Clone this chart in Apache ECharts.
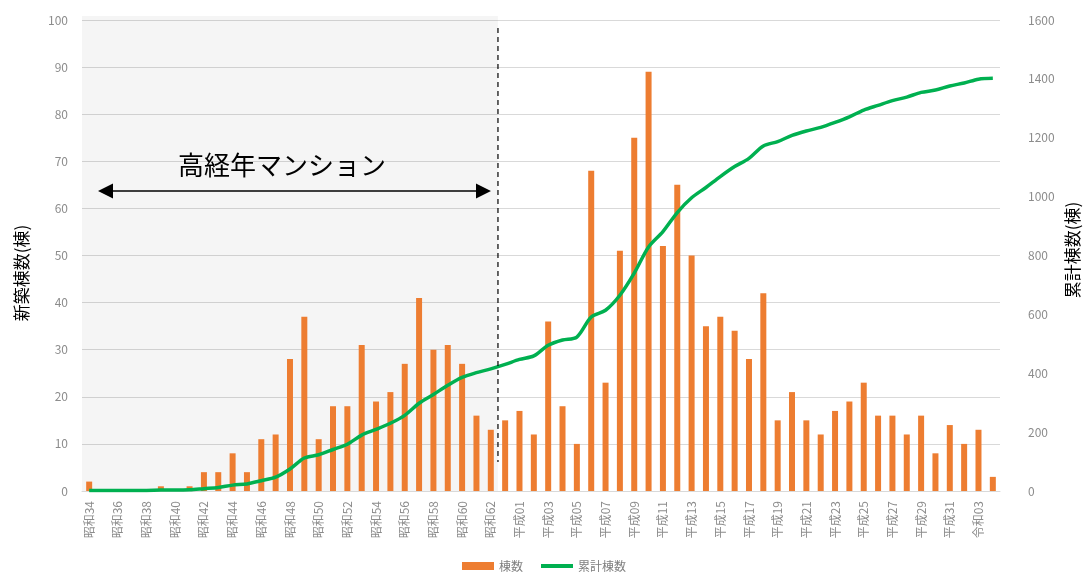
<!DOCTYPE html>
<html><head><meta charset="utf-8">
<script src="https://cdn.jsdelivr.net/npm/echarts@6/dist/echarts.min.js"></script>
<style>html,body{margin:0;padding:0;background:#fff}#c{width:1088px;height:579px}</style>
</head><body><div id="c"></div>
<script>
const categories = [
 '昭和34','昭和35','昭和36','昭和37','昭和38','昭和39','昭和40','昭和41','昭和42','昭和43',
 '昭和44','昭和45','昭和46','昭和47','昭和48','昭和49','昭和50','昭和51','昭和52','昭和53',
 '昭和54','昭和55','昭和56','昭和57','昭和58','昭和59','昭和60','昭和61','昭和62','昭和63',
 '平成01','平成02','平成03','平成04','平成05','平成06','平成07','平成08','平成09','平成10',
 '平成11','平成12','平成13','平成14','平成15','平成16','平成17','平成18','平成19','平成20',
 '平成21','平成22','平成23','平成24','平成25','平成26','平成27','平成28','平成29','平成30',
 '平成31','令和02','令和03','令和04'];
const buildings = [
 2,0,0,0,0,1,0,1,4,4,
 8,4,11,12,28,37,11,18,18,31,
 19,21,27,41,30,31,27,16,13,15,
 17,12,36,18,10,68,23,51,75,89,
 52,65,50,35,37,34,28,42,15,21,
 15,12,17,19,23,16,16,12,16,8,
 14,10,13,3];
const cumulative = [
 2,2,2,2,2,3,3,4,8,12,
 20,24,35,47,75,112,123,141,159,190,
 209,230,257,298,328,359,386,402,415,430,
 447,459,495,513,523,591,614,665,740,829,
 881,946,996,1031,1068,1102,1130,1172,1187,1208,
 1223,1235,1252,1271,1294,1310,1326,1338,1354,1362,
 1376,1386,1399,1402];
const leftTicks = {min:0, max:100, interval:10};
const rightTicks = {min:0, max:1600, interval:200};

const FONT = '"Noto Sans CJK JP", "Noto Sans", sans-serif';
const chart = echarts.init(document.getElementById('c'), null, {renderer:'canvas'});
chart.setOption({
  animation:false,
  textStyle:{fontFamily:FONT},
  grid:{left:82, right:88, top:20, bottom:88, containLabel:false},
  legend:{
    bottom:2, left:'center', itemGap:18, itemWidth:32, itemHeight:8,
    textStyle:{color:'#7f7f7f', fontSize:12, fontFamily:FONT},
    data:[{name:'棟数', icon:'rect'},{name:'累計棟数', icon:'path://M0,0H32V4H0Z'}]
  },
  xAxis:{
    type:'category', data:categories, boundaryGap:true,
    axisLine:{lineStyle:{color:'#d9d9d9'}}, axisTick:{show:false},
    axisLabel:{interval:1, rotate:90, color:'#8c8c8c', fontSize:12, margin:10, fontFamily:FONT}
  },
  yAxis:[
    {type:'value', min:leftTicks.min, max:leftTicks.max, interval:leftTicks.interval,
     axisLine:{show:false}, axisTick:{show:false},
     axisLabel:{color:'#8c8c8c', fontSize:12, margin:14},
     splitLine:{lineStyle:{color:'#d9d9d9', width:1}}},
    {type:'value', min:rightTicks.min, max:rightTicks.max, interval:rightTicks.interval,
     axisLine:{show:false}, axisTick:{show:false},
     axisLabel:{color:'#8c8c8c', fontSize:12, margin:28, formatter:v => String(v)},
     splitLine:{show:false}}
  ],
  series:[
    {name:'棟数', type:'bar', data:buildings, barWidth:6, itemStyle:{color:'#ED7D31'}, z:3},
    {name:'累計棟数', type:'line', yAxisIndex:1, data:cumulative, smooth:0.3,
     showSymbol:false, symbol:'none', lineStyle:{color:'#00B050', width:3.5}, itemStyle:{color:'#00B050'}, z:4}
  ]
});

const px = i => chart.convertToPixel({xAxisIndex:0}, i);
const py0 = chart.convertToPixel({yAxisIndex:0}, 0);
const py100 = chart.convertToPixel({yAxisIndex:0}, 100);
const xb = (px(28) + px(29)) / 2;
const gl = 82;
const ay = 191;
chart.setOption({
  graphic:[
    {type:'rect', z:1, silent:true, shape:{x:gl, y:py100-4, width:xb-gl, height:py0-py100+4},
     style:{fill:'rgba(0,0,0,0.04)'}},
    {type:'line', z:10, shape:{x1:xb, y1:py100+8, x2:xb, y2:462},
     style:{stroke:'#000', lineWidth:1.2, lineDash:[5,4]}},
    {type:'line', z:10, shape:{x1:gl+28, y1:ay, x2:xb-20, y2:ay},
     style:{stroke:'#000', lineWidth:1.5}},
    {type:'polygon', z:10, shape:{points:[[gl+16,ay],[gl+31,ay-7.5],[gl+31,ay+7.5]]}, style:{fill:'#000'}},
    {type:'polygon', z:10, shape:{points:[[xb-7,ay],[xb-22,ay-7.5],[xb-22,ay+7.5]]}, style:{fill:'#000'}},
    {type:'text', z:10, x:(gl+xb)/2 - 8, y:165,
     style:{text:'高経年マンション', fill:'#000', font:'26px '+FONT, align:'center', verticalAlign:'middle'}},
    {type:'text', z:10, x:22, y:273, rotation:Math.PI/2,
     style:{text:'新築棟数(棟)', fill:'#000', font:'17px '+FONT, align:'center', verticalAlign:'middle'}},
    {type:'text', z:10, x:1073, y:250, rotation:Math.PI/2,
     style:{text:'累計棟数(棟)', fill:'#000', font:'17px '+FONT, align:'center', verticalAlign:'middle'}}
  ]
});
</script></body></html>
